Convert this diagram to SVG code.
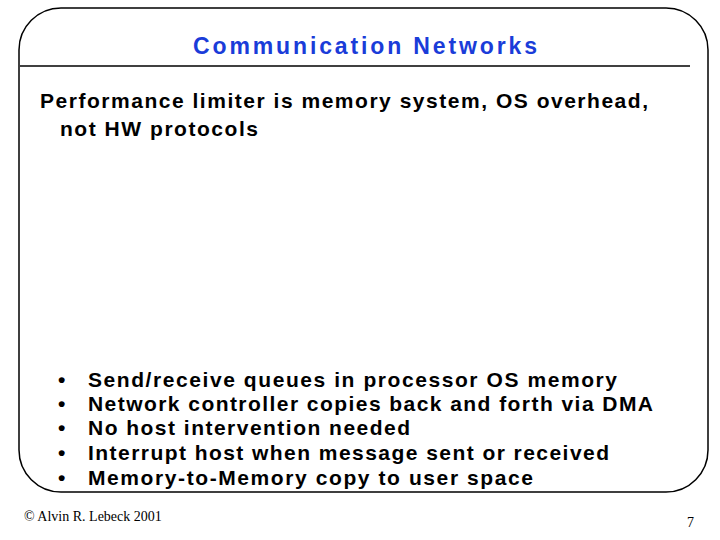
<svg xmlns="http://www.w3.org/2000/svg" width="720" height="540" viewBox="0 0 720 540">
<style>
.b{font-family:"Liberation Sans",Arial,sans-serif;font-size:21px;font-weight:bold;fill:#000}
</style>
<rect width="720" height="540" fill="#fff"/>
<g id="frame">
<rect x="19" y="8" width="689" height="484" rx="42" ry="42" fill="none" stroke="#000" stroke-width="1.5"/>
<line x1="20" y1="66" x2="690" y2="66" stroke="#000" stroke-width="1.5"/>
</g>
<g id="title"><text x="193" y="54" textLength="344" lengthAdjust="spacing" font-family="Liberation Sans,Arial,sans-serif" font-size="23" font-weight="bold" fill="#1a3cd9">Communication Networks</text></g>
<g id="body">
<text class="b" x="40" y="108" textLength="608" lengthAdjust="spacing">Performance limiter is memory system, OS overhead,</text>
<text class="b" x="60" y="136" textLength="198" lengthAdjust="spacing">not HW protocols</text>
<text class="b" x="58" y="387">•</text><text class="b" x="88" y="387" textLength="529" lengthAdjust="spacing">Send/receive queues in processor OS memory</text>
<text class="b" x="58" y="411">•</text><text class="b" x="88" y="411" textLength="565" lengthAdjust="spacing">Network controller copies back and forth via DMA</text>
<text class="b" x="58" y="435">•</text><text class="b" x="88" y="435" textLength="322" lengthAdjust="spacing">No host intervention needed</text>
<text class="b" x="58" y="460">•</text><text class="b" x="88" y="460" textLength="521" lengthAdjust="spacing">Interrupt host when message sent or received</text>
<text class="b" x="58" y="485">•</text><text class="b" x="88" y="485" textLength="445" lengthAdjust="spacing">Memory-to-Memory copy to user space</text>
</g>
<g id="footer">
<text x="24" y="521" font-family="Liberation Serif,serif" font-size="14">© Alvin R. Lebeck 2001</text>
<text x="694" y="527" text-anchor="end" font-family="Liberation Serif,serif" font-size="14">7</text>
</g>
</svg>
